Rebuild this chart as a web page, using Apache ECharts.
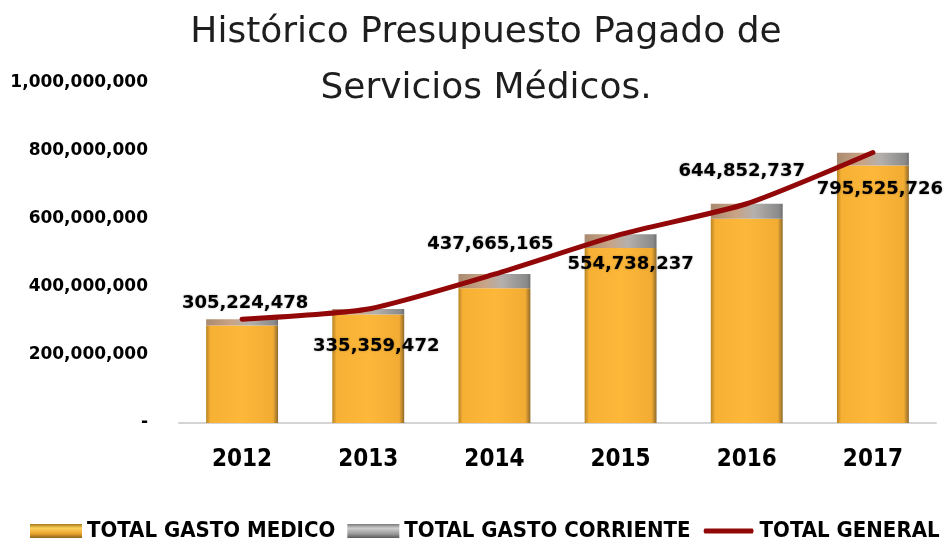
<!DOCTYPE html>
<html>
<head>
<meta charset="utf-8">
<script src="https://cdn.jsdelivr.net/npm/echarts@6/dist/echarts.min.js"></script>
<style>html,body{margin:0;padding:0;background:#fff}#c{width:952px;height:547px}</style>
</head>
<body>
<div id="c"></div>
<script>
var years = ['2012', '2013', '2014', '2015', '2016', '2017'];
var gastoMedico = [287000000, 319000000, 396000000, 515000000, 601000000, 757000000];
var gastoCorriente = [18000000, 16000000, 42000000, 40000000, 44000000, 38000000];
var totalGeneral = [305224478, 335359472, 437665165, 554738237, 644852737, 795525726];
var labelPos = ['top', 'bottom', 'top', 'bottom', 'top', 'bottom'];
var labelDist = [6, 28, 20, 20, 23, 27];
var labelDx = [3, 8, -4, 10, -5, 7];

function fmt(v) { return v === 0 ? '-' : String(v).replace(/\B(?=(\d{3})+(?!\d))/g, ','); }

var orangeGrad = new echarts.graphic.LinearGradient(0, 0, 1, 0, [
  {offset: 0, color: '#b88424'}, {offset: 0.06, color: '#f6b034'},
  {offset: 0.5, color: '#fdb739'}, {offset: 0.93, color: '#f2ac33'}, {offset: 1, color: '#8f6a2a'}
]);
var grayGrad = new echarts.graphic.LinearGradient(0, 0, 1, 0, [
  {offset: 0, color: '#a98b70'}, {offset: 0.35, color: '#c9a385'},
  {offset: 0.6, color: '#b4b0ad'}, {offset: 0.95, color: '#8a8a8a'}, {offset: 1, color: '#6e6e6e'}
]);
var legendOrange = new echarts.graphic.LinearGradient(0, 0, 0, 1, [
  {offset: 0, color: '#a77a1c'}, {offset: 0.3, color: '#fdd25a'}, {offset: 0.7, color: '#e8a22c'}, {offset: 1, color: '#8a641c'}
]);
var legendGray = new echarts.graphic.LinearGradient(0, 0, 0, 1, [
  {offset: 0, color: '#7a7a7a'}, {offset: 0.3, color: '#cfcfcf'}, {offset: 0.7, color: '#9a9a9a'}, {offset: 1, color: '#5a5a5a'}
]);
var condFont = "'DejaVu Sans Condensed', 'DejaVu Sans', sans-serif";

var chart = echarts.init(document.getElementById('c'));
chart.setOption({
  animation: false,
  backgroundColor: '#ffffff',
  title: {
    text: 'Histórico Presupuesto Pagado de\nServicios Médicos.',
    left: 481, top: 0, textAlign: 'center',
    textStyle: {fontFamily: 'DejaVu Sans', fontWeight: 'normal', fontSize: 36, lineHeight: 56, color: '#1e1e1e'}
  },
  grid: {left: 179, right: 16, top: 83, bottom: 124},
  legend: {
    bottom: 5, left: 30, right: 0, padding: 0,
    itemWidth: 52, itemHeight: 14, itemGap: 12,
    textStyle: {fontFamily: condFont, fontWeight: 'bold', fontSize: 22, color: '#000'},
    data: [
      {name: 'TOTAL GASTO MEDICO', icon: 'rect', itemStyle: {color: legendOrange}},
      {name: 'TOTAL GASTO CORRIENTE', icon: 'rect', itemStyle: {color: legendGray}},
      {name: 'TOTAL GENERAL',
       icon: 'path://M0,0 L52,0 L52,0.01 Z M2,4.5 L50,4.5 Q52,7 50,9.5 L2,9.5 Q0,7 2,4.5 Z M0,13.99 L52,14 L0,14 Z',
       itemStyle: {color: '#920808', opacity: 1}}
    ]
  },
  xAxis: {
    type: 'category', data: years,
    axisTick: {show: false},
    axisLine: {lineStyle: {color: '#d4d4d4', width: 2}},
    axisLabel: {margin: 25, fontFamily: condFont, fontWeight: 'bold', fontSize: 24, color: '#000'}
  },
  yAxis: {
    type: 'value', min: 0, max: 1000000000, interval: 200000000,
    splitLine: {show: false}, axisLine: {show: false}, axisTick: {show: false},
    axisLabel: {margin: 31, formatter: fmt, fontFamily: 'DejaVu Sans', fontWeight: 'bold', fontSize: 17, color: '#000'}
  },
  series: [
    {
      name: 'TOTAL GASTO MEDICO', type: 'bar', stack: 't', barWidth: '57%',
      data: gastoMedico, itemStyle: {color: orangeGrad}
    },
    {
      name: 'TOTAL GASTO CORRIENTE', type: 'bar', stack: 't', barWidth: '57%',
      data: gastoCorriente, itemStyle: {color: grayGrad}
    },
    {
      name: 'TOTAL GENERAL', type: 'line', smooth: 0.2, symbol: 'circle', symbolSize: 1, z: 5,
      showSymbol: true,
      lineStyle: {color: '#920808', width: 5, cap: 'round'},
      itemStyle: {color: 'rgba(0,0,0,0)'},
      data: totalGeneral.map(function (v, i) {
        return {value: v, label: {show: true, position: labelPos[i], distance: labelDist[i], offset: [labelDx[i], 0]}};
      }),
      label: {
        show: true, formatter: function (p) { return fmt(p.value); },
        fontFamily: 'DejaVu Sans', fontWeight: 'bold', fontSize: 18, color: '#000',
        textShadowColor: 'rgba(0,0,0,0.35)', textShadowBlur: 2
      }
    }
  ]
});
</script>
</body>
</html>
